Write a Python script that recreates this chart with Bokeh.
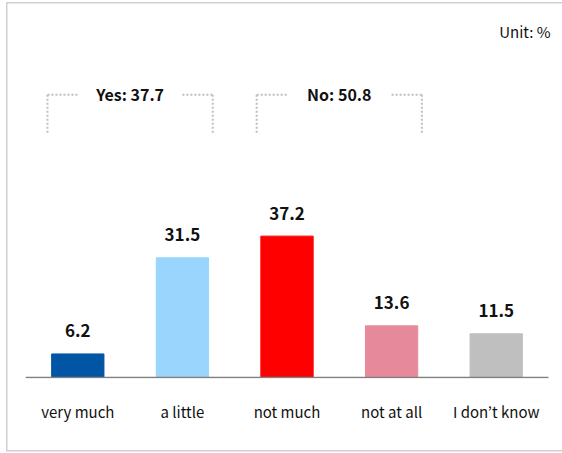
from bokeh.plotting import figure
from bokeh.models import Range1d, FixedTicker, Label, ColumnDataSource
from bokeh.core.properties import value
from bokeh.embed import file_html
from bokeh.resources import INLINE

categories = ["very much", "a little", "not much", "not at all", "I don\u2019t know"]
values = [6.2, 31.5, 37.2, 13.6, 11.5]
colors = ["#0055A5", "#99D5FC", "#FF0000", "#E6899B", "#BFBFBF"]
group_names = ["Yes", "No"]
group_totals = [37.7, 50.8]
group_members = [(0, 1), (2, 3)]
unit_text = "Unit: %"

FONT = "Noto Sans CJK KR"
PX_PER_CAT = 104.6
PX_PER_UNIT = 3.8

xs = [i + 0.5 for i in range(len(categories))]
labels = [f"{v:.1f}" for v in values]
src = ColumnDataSource(dict(x=xs, top=values, color=colors, label=labels))

frame_w = 562 - 25
frame_h = 378
p = figure(width=562, height=453, output_backend="svg", toolbar_location=None,
           x_range=Range1d(0, frame_w / PX_PER_CAT),
           y_range=Range1d(-1 / PX_PER_UNIT, (frame_h - 1) / PX_PER_UNIT),
           min_border_left=25, min_border_right=0, min_border_top=0,
           min_border_bottom=453 - frame_h)
p.outline_line_color = None
p.background_fill_color = None
p.border_fill_color = None
p.grid.visible = False
p.yaxis.visible = False
line_c = "#D0D0D0"
p.styles = {
    "background-color": "white",
    "background-image": ", ".join([f"linear-gradient({line_c}, {line_c})"] * 3),
    "background-position": "6px 2px, 6px 2px, 6px 450px",
    "background-size": "100% 1.5px, 1.5px 449px, 100% 1.5px",
    "background-repeat": "no-repeat",
}

p.vbar(x="x", top="top", width=0.5, bottom=0, color="color", source=src)
# baseline
p.segment(x0=[0], x1=[len(categories)], y0=[0], y1=[0], line_color="#808080", line_width=1.5)
p.text(x="x", y="top", text="label", source=src, text_align="center", text_baseline="middle",
       y_offset=-23, text_font=value(FONT), text_font_style="bold", text_font_size="17px",
       text_color="#111111")

ax = p.xaxis[0]
ax.ticker = FixedTicker(ticks=xs)
ax.major_label_overrides = {x: c for x, c in zip(xs, categories)}
ax.major_tick_line_color = None
ax.minor_tick_line_color = None
ax.axis_line_color = None
ax.major_label_standoff = 16
ax.major_label_text_font = FONT
ax.major_label_text_font_size = "15px"
ax.major_label_text_color = "#111111"

# group brackets
ytop, ybot = 74.4, 64.2
half, seg = 0.79, 0.29
for name, tot, (i0, i1) in zip(group_names, group_totals, group_members):
    c = (xs[i0] + xs[i1]) / 2
    l, r = c - half, c + half
    for xx, yy in ([[l, l + seg], [ytop, ytop]], [[l, l], [ytop, ybot]],
                   [[r - seg, r], [ytop, ytop]], [[r, r], [ytop, ybot]]):
        p.line(xx, yy, line_color="#BFBFBF", line_width=2, line_dash="2 2")
    p.text(x=[c], y=[ytop + 0.3], text=[f"{name}: {tot}"], text_align="center", text_baseline="middle",
           text_font=value(FONT), text_font_style="bold", text_font_size="16px", text_color="#111111")

p.add_layout(Label(x=(550 - 25) / PX_PER_CAT, y=(377 - 31) / PX_PER_UNIT, text=unit_text,
                   text_align="right", text_baseline="middle",
                   text_font=FONT, text_font_size="15px", text_color="#111111"))

open("out.html", "w").write(file_html(p, INLINE))
